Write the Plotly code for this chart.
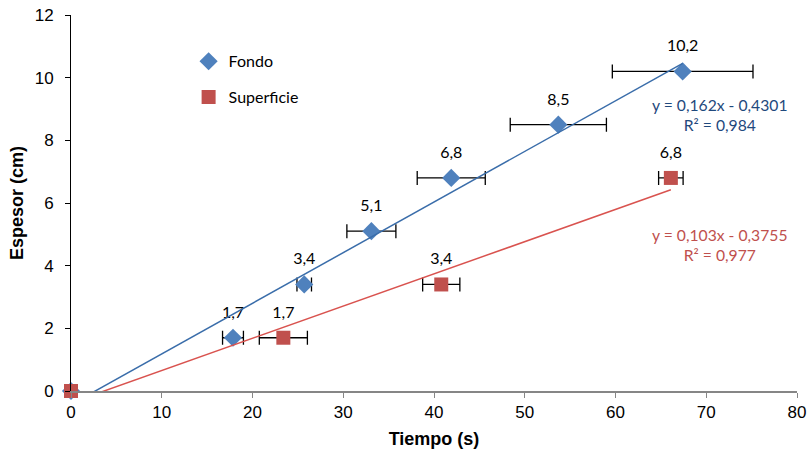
import numpy as np
import plotly.graph_objects as go

# ---- data ----
fondo_t = [0, 17.85, 25.7, 33.1, 41.9, 53.7, 67.4]
fondo_e = [0, 1.7, 3.4, 5.1, 6.8, 8.5, 10.2]
fondo_err = [None, 1.15, 0.8, 2.7, 3.75, 5.3, 7.75]

sup_t = [0, 23.4, 40.8, 66.1]
sup_e = [0, 1.7, 3.4, 6.8]
sup_err = [None, 2.65, 2.05, 1.35]

fondo_eq = "y = 0,162x - 0,4301<br>R² = 0,984"
sup_eq = "y = 0,103x - 0,3755<br>R² = 0,977"

x_ticks = [0, 10, 20, 30, 40, 50, 60, 70, 80]
y_ticks = [0, 2, 4, 6, 8, 10, 12]

BLUE = "#4F81BD"
RED = "#C0504D"
EQ_BLUE = "#1F497D"
LABEL_FONT = "Lato, 'Open Sans', sans-serif"
AXIS_FONT = "'Liberation Sans', Arial, sans-serif"


def lab(vals):
    return ["" if v == 0 else f"{v:.1f}".replace(".", ",") for v in vals]


def err(vals):
    return [float("nan") if v is None else v for v in vals]


fig = go.Figure()

fig.add_trace(go.Scatter(
    x=fondo_t, y=fondo_e, mode="markers", name="Fondo",
    marker=dict(symbol="diamond", size=14, color=BLUE),
    error_x=dict(type="data", array=err(fondo_err), visible=True,
                 color="#000", thickness=1.3, width=7),
    cliponaxis=False, legendgroup="a",
))
fig.add_trace(go.Scatter(
    x=sup_t, y=sup_e, mode="markers", name="Superficie",
    marker=dict(symbol="square", size=14, color=RED),
    error_x=dict(type="data", array=err(sup_err), visible=True,
                 color="#000", thickness=1.3, width=7),
    cliponaxis=False, legendgroup="b",
))

# data labels (invisible spacer markers push the labels up like Excel)
for xs, ys in [(fondo_t, fondo_e), (sup_t, sup_e)]:
    fig.add_trace(go.Scatter(
        x=xs, y=ys, mode="markers+text", text=lab(ys),
        textposition="top center",
        textfont=dict(family=LABEL_FONT, size=16, color="#000"),
        marker=dict(size=24, opacity=0),
        showlegend=False, hoverinfo="skip", cliponaxis=False))

# linear trendlines from the data
for xs, ys, col in [(fondo_t, fondo_e, "#3A6DAA"), (sup_t, sup_e, "#D9534F")]:
    m, b = np.polyfit(xs, ys, 1)
    xl = np.array([min(xs), max(xs)])
    fig.add_trace(go.Scatter(x=xl, y=m * xl + b, mode="lines",
                             line=dict(color=col, width=1.5),
                             showlegend=False, hoverinfo="skip"))

fig.add_annotation(x=71.5, y=8.8, xref="x", yref="y", text=fondo_eq,
                   showarrow=False, align="center",
                   font=dict(family=LABEL_FONT, size=15.7, color=EQ_BLUE))
fig.add_annotation(x=71.5, y=4.65, xref="x", yref="y", text=sup_eq,
                   showarrow=False, align="center",
                   font=dict(family=LABEL_FONT, size=15.7, color=RED))

fig.update_layout(
    width=809, height=458,
    margin=dict(l=71, r=12, t=15, b=67),
    paper_bgcolor="white", plot_bgcolor="white",
    showlegend=True,
    legend=dict(x=0.162, y=0.922, xanchor="left", yanchor="top",
                bgcolor="rgba(0,0,0,0)", tracegroupgap=12,
                font=dict(family=LABEL_FONT, size=16, color="#000")),
    xaxis=dict(range=[0, 80], tickvals=x_ticks, showgrid=False, zeroline=False,
               showline=True, linecolor="#868686", linewidth=1.5,
               ticks="outside", ticklen=5, tickcolor="#868686",
               automargin=False,
               tickfont=dict(family=AXIS_FONT, size=17, color="#000"),
               title=dict(text="<b>Tiempo (s)</b>", standoff=11,
                          font=dict(family=AXIS_FONT, size=18, color="#000"))),
    yaxis=dict(range=[0, 12], tickvals=y_ticks, showgrid=False, zeroline=False,
               showline=True, linecolor="#000", linewidth=1,
               ticks="outside", ticklen=5, tickcolor="#000",
               automargin=False, ticklabelstandoff=8,
               tickfont=dict(family=AXIS_FONT, size=17, color="#000"),
               title=dict(text="<b>Espesor (cm)</b>", standoff=6,
                          font=dict(family=AXIS_FONT, size=18, color="#000"))),
)

fig.write_html("out.html")
